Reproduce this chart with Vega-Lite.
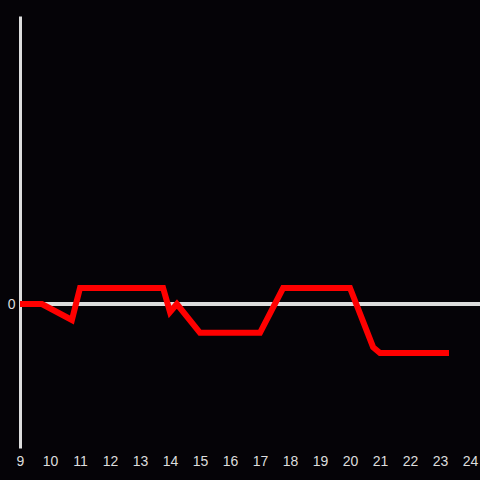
{
  "$schema": "https://vega.github.io/schema/vega-lite/v6.json",
  "autosize": "none",
  "padding": {"left": 20, "top": 16, "right": 0, "bottom": 32},
  "width": 460,
  "height": 432,
  "background": "#050307",
  "config": {
    "view": {"stroke": null},
    "font": "Liberation Sans"
  },
  "data": {
    "values": [
      {"x": 9.0, "y": 0.0},
      {"x": 9.73, "y": 0.0},
      {"x": 10.73, "y": -0.111},
      {"x": 11.0, "y": 0.111},
      {"x": 13.77, "y": 0.111},
      {"x": 14.0, "y": -0.056},
      {"x": 14.23, "y": 0.0},
      {"x": 15.0, "y": -0.2},
      {"x": 17.0, "y": -0.2},
      {"x": 17.77, "y": 0.111},
      {"x": 20.0, "y": 0.111},
      {"x": 20.77, "y": -0.3},
      {"x": 21.0, "y": -0.34},
      {"x": 23.3, "y": -0.34}
    ]
  },
  "layer": [
    {
      "mark": {"type": "rule", "color": "#dddddd", "strokeWidth": 3},
      "encoding": {"y": {"datum": 0, "type": "quantitative"}}
    },
    {
      "mark": {"type": "line", "color": "#ff0000", "strokeWidth": 6, "strokeJoin": "miter", "strokeCap": "butt"},
      "encoding": {
        "x": {
          "field": "x", "type": "quantitative",
          "scale": {"domain": [9, 24.333], "nice": false, "zero": false},
          "axis": {
            "title": null, "values": [9,10,11,12,13,14,15,16,17,18,19,20,21,22,23,24],
            "format": "d",
            "domain": false, "ticks": false, "grid": false,
            "labelColor": "#dddddd", "labelFontSize": 14, "labelPadding": 6,
            "labelFlush": false, "labelOverlap": false
          }
        },
        "y": {
          "field": "y", "type": "quantitative",
          "scale": {"domain": [-1, 2], "nice": false, "zero": false},
          "axis": {
            "title": null, "values": [0], "format": "d",
            "domain": true, "domainColor": "#dddddd", "domainWidth": 3,
            "ticks": false, "grid": false,
            "labelColor": "#dddddd", "labelFontSize": 14, "labelPadding": 5
          }
        }
      }
    }
  ]
}
